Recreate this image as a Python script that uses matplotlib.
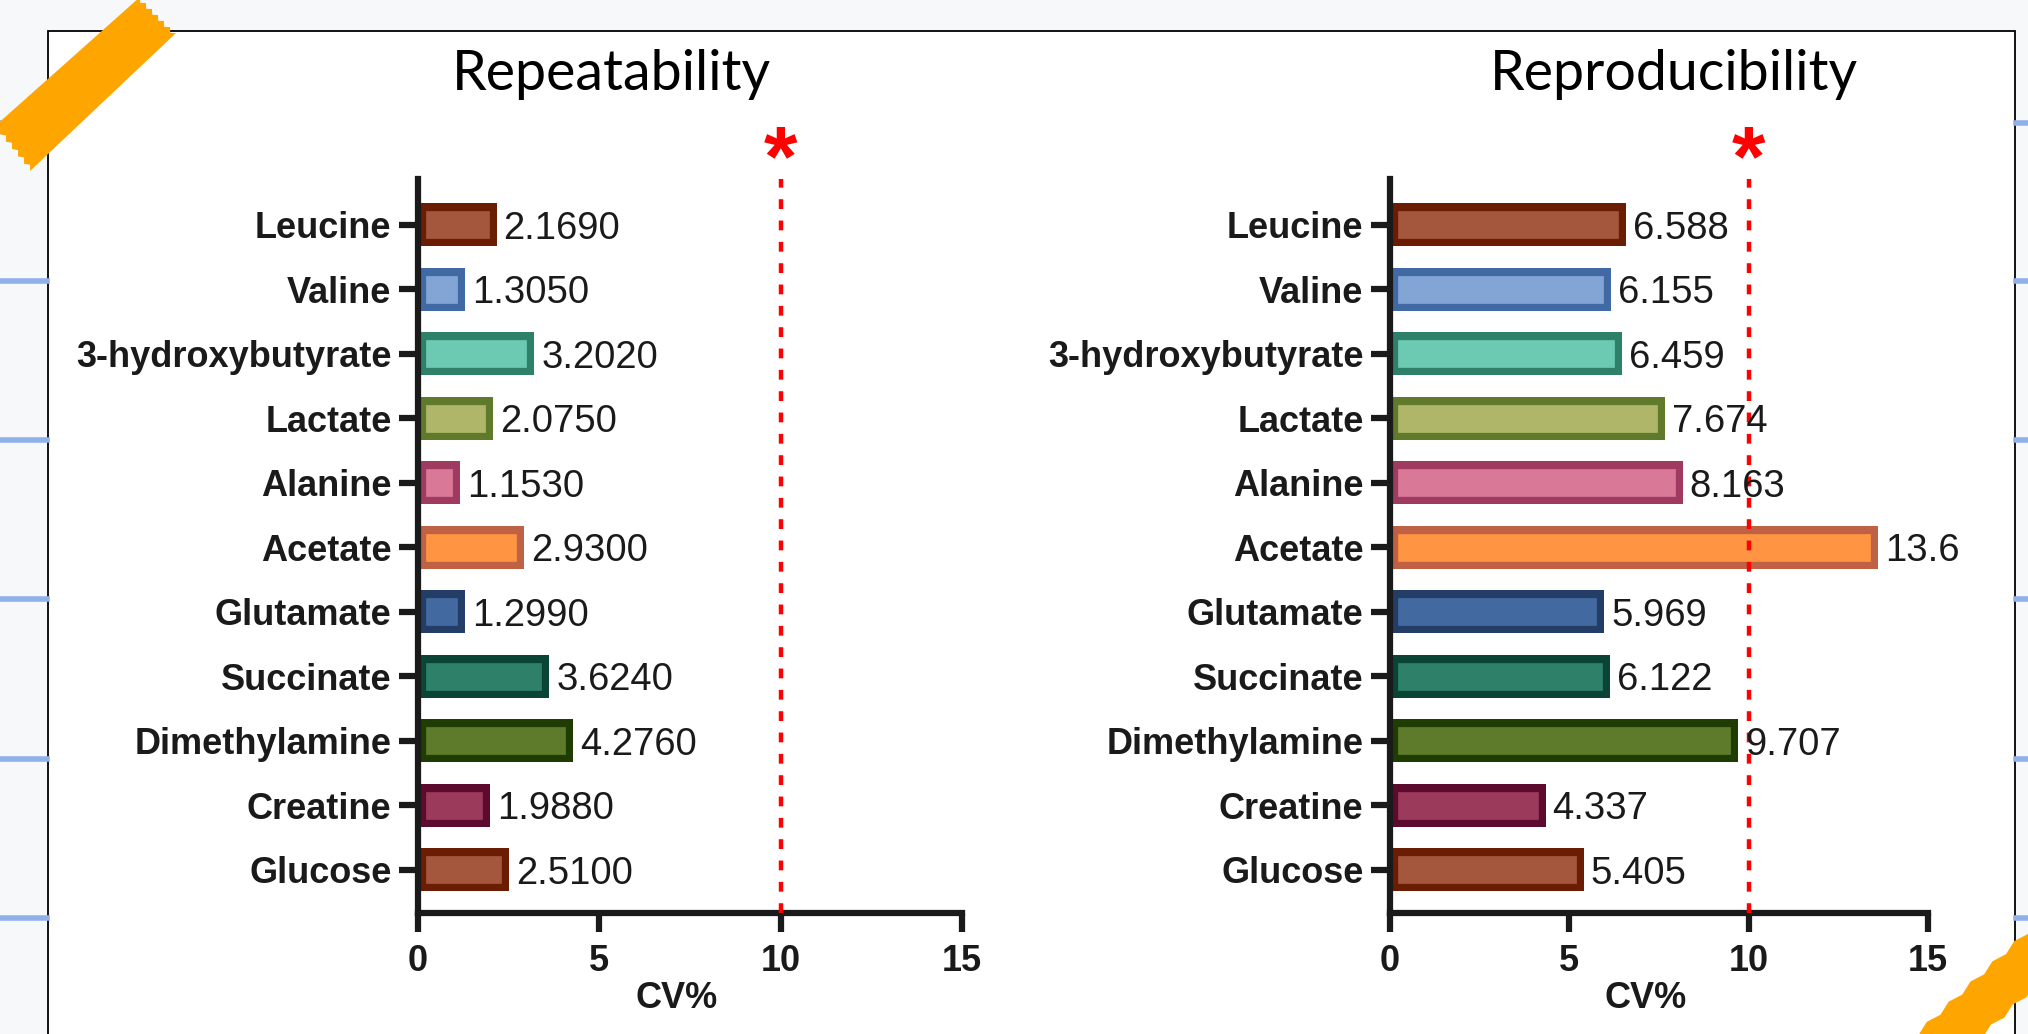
import numpy as np
import matplotlib
matplotlib.use("Agg")
import matplotlib.pyplot as plt
from matplotlib.patches import Rectangle, Polygon

W, H = 2028, 1034

# ---------- data ----------
metabolites = ["Leucine", "Valine", "3-hydroxybutyrate", "Lactate", "Alanine", "Acetate",
               "Glutamate", "Succinate", "Dimethylamine", "Creatine", "Glucose"]
repeatability = [2.1690, 1.3050, 3.2020, 2.0750, 1.1530, 2.9300, 1.2990, 3.6240, 4.2760, 1.9880, 2.5100]
reproducibility = [6.588, 6.155, 6.459, 7.674, 8.163, 13.6, 5.969, 6.122, 9.707, 4.337, 5.405]
fill_colors = ["#A4573C", "#82A5D6", "#6CC9B2", "#AFB66A", "#D97997", "#FF9442",
               "#436AA0", "#2E8068", "#5E7B2B", "#9C3A5C", "#A4573C"]
edge_colors = ["#6B1D04", "#4169A3", "#2F8069", "#5E7A2A", "#A03A60", "#BF6145",
               "#233D66", "#0A4434", "#1F3D02", "#5C0B2E", "#6B1D04"]
x_ticks = [0, 5, 10, 15]
threshold = 10

INK = "#1a1a1a"
SANS = "Liberation Sans"

def fx(px): return px / W
def fy(py): return 1 - py / H

fig = plt.figure(figsize=(W / 100, H / 100), dpi=100, facecolor="#f7f8fa")

# page decorations: white card, blue rules at the sides, tape
fig.patches.append(Rectangle((fx(48), -0.1), fx(2015) - fx(48), fy(31) + 0.1,
                             transform=fig.transFigure, facecolor="white",
                             edgecolor="black", lw=1.3, zorder=-10))
for py in [123, 281, 440, 599, 759, 918]:
    for x0, x1 in [(0, 47), (2016, W)]:
        fig.lines.append(plt.Line2D([fx(x0), fx(x1)], [fy(py), fy(py)], transform=fig.transFigure,
                                    color="#8fb0ea", lw=4, zorder=-9))

def tape(p_top, p_top2, p_bot, p_bot2, teeth=6, amp=4):
    # band with torn (zigzag) ends
    def zig(a, b):
        a, b = np.array(a, float), np.array(b, float)
        d = b - a; n = np.array([-d[1], d[0]]) / np.hypot(*d)
        pts = []
        for k in range(teeth * 2 + 1):
            t = k / (teeth * 2)
            pts.append(a + d * t + n * (amp if k % 2 else 0))
        return pts
    pts = zig(p_top, p_top2) + zig(p_bot, p_bot2)
    pts = [(fx(x), fy(y)) for x, y in pts]
    fig.patches.append(Polygon(pts, closed=True, transform=fig.transFigure,
                               facecolor="#ffa500", edgecolor="none", zorder=20))

tape((140, -3), (176, 33), (30, 171), (-6, 127))
tape((1905, 1042), (2036, 921), (2070, 957), (1939, 1078))

# ---------- panels ----------
axes_px = [(418, 962), (1390, 1928)]
titles = ["Repeatability", "Reproducibility"]
title_x = [611, 1674]
series = [repeatability, reproducibility]
fmts = ["{:.4f}", "{:g}"]
ypos = np.arange(len(metabolites))[::-1]

for (x0, x1), title, tx, vals, fmt in zip(axes_px, titles, title_x, series, fmts):
    ax = fig.add_axes([fx(x0), fy(913), fx(x1) - fx(x0), fy(179) - fy(913)])
    ax.set_facecolor("none")
    bars = ax.barh(ypos, vals, height=0.67, color=fill_colors, edgecolor=edge_colors,
                   linewidth=11, zorder=2)
    for b in bars:
        b.set_clip_path(b)  # keep the stroke inside the bar
    for y, v in zip(ypos, vals):
        ax.annotate(fmt.format(v), (v, y), xytext=(5, 0), textcoords="offset points",
                    ha="left", va="center_baseline", fontsize=27.5, family=SANS, color=INK, zorder=4)
    ax.axvline(threshold, color="red", lw=3.2, dashes=(2.2, 2.6), zorder=3)
    ax.text(threshold, 1.022, "*", transform=ax.get_xaxis_transform(), ha="center", va="center",
            fontsize=62, fontweight="bold", family=SANS, color="red")

    ax.set_xlim(0, 15)
    ax.set_ylim(-0.67, 10.71)
    ax.set_xticks(x_ticks)
    ax.set_yticks(ypos)
    ax.set_yticklabels(metabolites)
    for sp in ("top", "right"):
        ax.spines[sp].set_visible(False)
    for sp in ("left", "bottom"):
        ax.spines[sp].set_linewidth(4.5)
        ax.spines[sp].set_color(INK)
        ax.spines[sp].set_capstyle("projecting")
    ax.tick_params(length=14, width=4.5, color=INK, pad=5)
    ax.tick_params(axis="x", pad=8)
    for lab in ax.get_xticklabels() + ax.get_yticklabels():
        lab.set_fontsize(26); lab.set_fontweight("bold"); lab.set_family(SANS); lab.set_color(INK)
    ax.set_xlabel("CV%", fontsize=26, fontweight="bold", family=SANS, color=INK)
    ax.xaxis.set_label_coords(0.475, -0.092)

    fig.text(fx(tx), fy(74), title, ha="center", va="center", fontsize=40, family="Lato", color="black")

fig.savefig("out.png", dpi=100, facecolor=fig.get_facecolor())
